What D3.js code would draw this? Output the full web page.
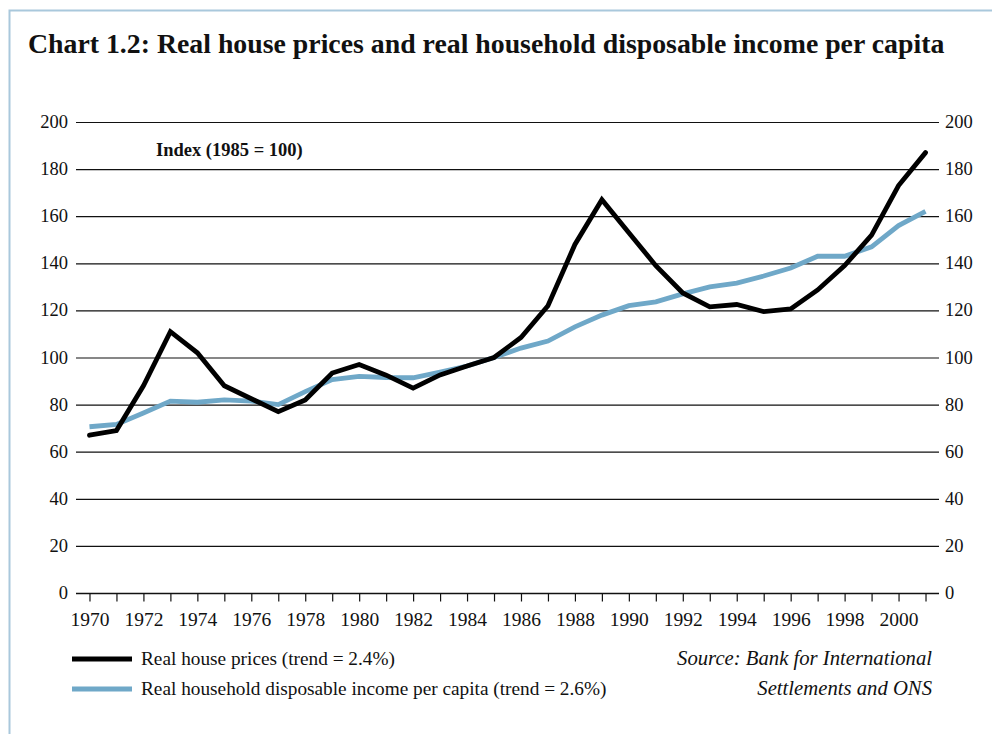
<!DOCTYPE html>
<html><head><meta charset="utf-8">
<script src="https://cdn.jsdelivr.net/npm/d3@7"></script>
<style>body{margin:0;background:#fff}svg{display:block}text{font-family:"Liberation Serif","Times New Roman",serif;fill:#111}</style>
</head><body><svg id="c" width="992" height="734"></svg>
<script>
const years = d3.range(1970, 2002);
const housePrices = [67,69,88,111,102,88,82.5,77,82,93.4,97,92.5,87,92.6,96.4,100,108.5,122,148,167,153,139,127.4,121.5,122.5,119.5,120.6,128.7,139,152,173,187];
const income = [70.6,71.6,76.4,81.5,81,82,81.5,80,85.5,90.6,92,91.5,91.4,93.8,96.4,100,104,107,113,118,122,123.6,127,130,131.6,134.6,138,143,143,147,156,162];
const yTicks = [0,20,40,60,80,100,120,140,160,180,200];
const xTickLabels = d3.range(1970, 2001, 2);
const title = "Chart 1.2: Real house prices and real household disposable income per capita";
const seriesNames = ["Real house prices (trend = 2.4%)", "Real household disposable income per capita (trend = 2.6%)"];
const seriesColors = ["#000000", "#6fa8c8"];

const svg = d3.select("#c");
svg.append("path").attr("d","M9.5,734 V10.5 H992").attr("fill","none").attr("stroke","#a9c8dc").attr("stroke-width",2);

svg.append("text").attr("x",28).attr("y",53).attr("font-size",27.8).attr("font-weight","bold").text(title);

const x = d3.scaleLinear().domain([1969.5, 2001.5]).range([76, 939]);
const y = d3.scaleLinear().domain([0, 200]).range([593, 122]);

svg.append("g").selectAll("line").data(yTicks).join("line")
  .attr("x1",76).attr("x2",939).attr("y1",d=>y(d)+0.5).attr("y2",d=>y(d)+0.5)
  .attr("stroke","#111").attr("stroke-width",1.2);

svg.append("g").selectAll("text").data(yTicks).join("text")
  .attr("x",68).attr("y",d=>y(d)+6).attr("text-anchor","end").attr("font-size",18.5).text(d=>d);
svg.append("g").selectAll("text").data(yTicks).join("text")
  .attr("x",945).attr("y",d=>y(d)+6).attr("text-anchor","start").attr("font-size",18.5).text(d=>d);

const xAxis = d3.axisBottom(x).tickValues(years).tickSize(8).tickFormat(d => xTickLabels.includes(d) ? d : "");
const gx = svg.append("g").attr("transform","translate(0,593.5)").call(xAxis);
gx.attr("font-family", null).attr("font-size", null);
gx.select(".domain").attr("d","M76,0H939").attr("stroke","#111").attr("stroke-width",1.5);
gx.selectAll(".tick line").attr("stroke","#111").attr("stroke-width",1.2);
gx.selectAll(".tick text").attr("font-size",19.5).attr("fill","#111").attr("y",32).attr("dy",0);

svg.append("text").attr("x",156).attr("y",156).attr("font-size",18.5).attr("font-weight","bold").text("Index (1985 = 100)");

const line = d3.line().x((d,i)=>x(years[i])).y(d=>y(d));
svg.append("path").datum(income).attr("d",line).attr("fill","none").attr("stroke",seriesColors[1]).attr("stroke-width",4.8).attr("stroke-linejoin","miter");
svg.append("path").datum(housePrices).attr("d",line).attr("fill","none").attr("stroke",seriesColors[0]).attr("stroke-width",4.8).attr("stroke-linejoin","miter").attr("stroke-linecap","round");

const lg = svg.append("g").selectAll("g").data(seriesNames).join("g")
  .attr("transform",(d,i)=>`translate(0,${659+i*30})`);
lg.append("line").attr("x1",72).attr("x2",132).attr("stroke",(d,i)=>seriesColors[i]).attr("stroke-width",4.8);
lg.append("text").attr("x",141).attr("y",6).attr("font-size",19.3).text(d=>d);

svg.append("text").attr("x",932).attr("y",665).attr("text-anchor","end").attr("font-size",20.7).attr("font-style","italic").text("Source: Bank for International");
svg.append("text").attr("x",932).attr("y",695).attr("text-anchor","end").attr("font-size",20.7).attr("font-style","italic").text("Settlements and ONS");
</script></body></html>
